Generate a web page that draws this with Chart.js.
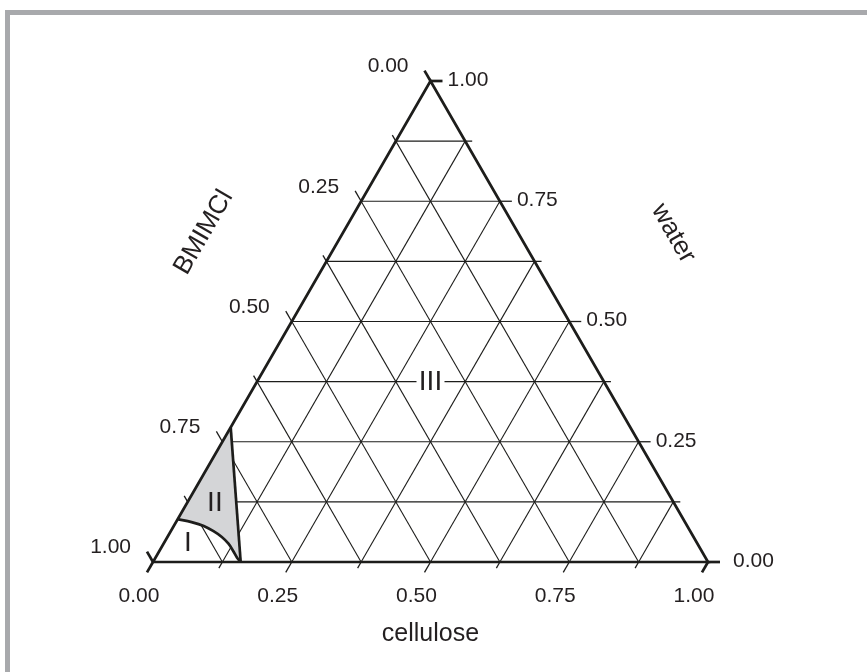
<!DOCTYPE html>
<html>
<head>
<meta charset="utf-8">
<script src="https://cdn.jsdelivr.net/npm/chart.js@4.4.1/dist/chart.umd.min.js"></script>
<style>
  html, body { margin: 0; padding: 0; background: #fff; }
  canvas { display: block; }
</style>
</head>
<body>
<canvas id="ternChart" width="867" height="672"></canvas>
<script>
// grid every 1/8, labels every 1/4
const gridValues = [0.125, 0.25, 0.375, 0.5, 0.625, 0.75, 0.875];
const tickValues = [0, 0.125, 0.25, 0.375, 0.5, 0.625, 0.75, 0.875, 1];
const labelValues = [0, 0.25, 0.5, 0.75, 1];
const tickLabels = ['0.00', '0.25', '0.50', '0.75', '1.00'];
const axisTitles = ['cellulose', 'BMIMCl', 'water'];

// region II boundary (cellulose / water fractions)
const edgeIICellulose = [0, 0.158];
const edgeIIWater = [0.28, 0];
const curveCellulose = [0.158, 0.147, 0.133, 0.117, 0.098, 0.077, 0.054, 0.028, 0];
const curveWater = [0, 0.009, 0.023, 0.038, 0.052, 0.064, 0.075, 0.083, 0.089];

// region labels
const regionNames = ['I', 'II', 'III'];
const regionCellulose = [0.042, 0.049, 0.3125];
const regionWater = [0.042, 0.125, 0.375];

const SQ = Math.sqrt(3) / 2;
const INK = '#1d1d1b';
const MAJOR = 12 / 555, MINOR = 7 / 555;

// ternary (cellulose, water) -> cartesian
function tern(c, w) {
  return { x: c + w / 2, y: w * SQ };
}

function line(points, width, order) {
  return {
    data: points,
    showLine: true,
    borderColor: INK,
    borderWidth: width,
    pointRadius: 0,
    fill: false,
    clip: false,
    tension: 0,
    order: order
  };
}

const datasets = [];

// grid lines
gridValues.forEach(t => {
  datasets.push(line([tern(t, 0), tern(t, 1 - t)], 1.1, 5));        // constant cellulose
  datasets.push(line([tern(0, t), tern(1 - t, t)], 1.1, 5));        // constant water
  datasets.push(line([tern(1 - t, 0), tern(0, 1 - t)], 1.1, 5));    // constant BMIMCl
});

// ticks
tickValues.forEach(t => {
  const isEnd = (t === 0 || t === 1);
  const len = (t * 4) % 1 === 0 ? MAJOR : MINOR;
  const wd = isEnd ? 2.7 : 1.3;
  // cellulose (bottom), down-left
  datasets.push(line([tern(t, 0), tern(t, -len)], wd, 5));
  // BMIMCl (left), up-left ; BMIMCl = t at water = 1 - t
  datasets.push(line([tern(0, 1 - t), tern(-len, 1 - t + len)], wd, 5));
  // water (right), to the right
  datasets.push(line([tern(1 - t, t), tern(1 - t + len, t)], wd, 5));
});

// region II fill
const fillPts = [];
edgeIICellulose.forEach((c, i) => fillPts.push(tern(c, edgeIIWater[i])));
curveCellulose.forEach((c, i) => fillPts.push(tern(c, curveWater[i])));
fillPts.push(tern(edgeIICellulose[0], edgeIIWater[0]));
datasets.push({
  data: fillPts,
  showLine: true,
  borderWidth: 0,
  borderColor: 'rgba(0,0,0,0)',
  backgroundColor: '#d4d5d7',
  pointRadius: 0,
  fill: 'shape',
  clip: false,
  tension: 0,
  order: 3
});

// region II outline
datasets.push(line(edgeIICellulose.map((c, i) => tern(c, edgeIIWater[i])), 2.7, 1));
const curveSet = line(curveCellulose.map((c, i) => tern(c, curveWater[i])), 2.7, 1);
curveSet.tension = 0.35;
datasets.push(curveSet);

// triangle edges
datasets.push(line([tern(0, 0), tern(1, 0), tern(0, 1), tern(0, 0)], 2.7, 0));

const textPlugin = {
  id: 'ternText',
  beforeDraw(chart) {
    const ctx = chart.ctx;
    ctx.save();
    ctx.fillStyle = '#fff';
    ctx.fillRect(0, 0, chart.width, chart.height);
    ctx.fillStyle = '#a8a9ac';
    ctx.fillRect(5, 10, chart.width - 5, 5);
    ctx.fillRect(5, 10, 5, chart.height - 10);
    ctx.restore();
  },
  afterDatasetsDraw(chart) {
    const { ctx, scales: { x, y } } = chart;
    const px = (c, w) => {
      const p = tern(c, w);
      return [x.getPixelForValue(p.x), y.getPixelForValue(p.y)];
    };
    ctx.save();
    ctx.fillStyle = '#231f20';
    ctx.font = '21px "Liberation Sans", Arial, sans-serif';
    ctx.textBaseline = 'middle';
    labelValues.forEach((t, i) => {
      // cellulose
      let [bx, by] = px(t, 0);
      ctx.textAlign = 'center';
      ctx.fillText(tickLabels[i], bx - 6 - 8, by + 10.4 + 24);
      // BMIMCl
      [bx, by] = px(0, 1 - t);
      ctx.textAlign = 'right';
      ctx.fillText(tickLabels[i], bx - 6 - 16, by - 10.4 - 4);
      // water
      [bx, by] = px(1 - t, t);
      ctx.textAlign = 'left';
      ctx.fillText(tickLabels[i], bx + 12 + 5 + (t === 0 ? 8 : 0), by - 1);
    });

    // axis titles
    ctx.textAlign = 'center';
    ctx.font = '25px "Liberation Sans", Arial, sans-serif';
    let [tx, ty] = px(0.5, 0);
    ctx.fillText(axisTitles[0], tx, ty + 72);
    ctx.font = '26px "Liberation Sans", Arial, sans-serif';
    [tx, ty] = px(0, 0.5);
    ctx.save();
    ctx.translate(tx - 88, ty - 89);
    ctx.rotate(-Math.PI / 3);
    ctx.fillText(axisTitles[1], 0, 0);
    ctx.restore();
    [tx, ty] = px(0.5, 0.5);
    ctx.save();
    ctx.translate(tx + 104, ty - 88);
    ctx.rotate(Math.PI / 3);
    ctx.fillText(axisTitles[2], 0, 0);
    ctx.restore();

    // region labels
    ctx.font = '28px "Liberation Sans", Arial, sans-serif';
    regionNames.forEach((name, i) => {
      const [rx, ry] = px(regionCellulose[i], regionWater[i]);
      if (name === 'III') {
        ctx.fillStyle = '#fff';
        ctx.fillRect(rx - 14, ry - 12, 28, 24);
        ctx.fillStyle = '#231f20';
      }
      ctx.fillText(name, rx, ry + 1);
    });
    ctx.restore();
  }
};

new Chart(document.getElementById('ternChart'), {
  type: 'scatter',
  data: { datasets: datasets },
  options: {
    responsive: false,
    animation: false,
    devicePixelRatio: 1,
    events: [],
    layout: { padding: { left: 153, right: 159, top: 81, bottom: 110 } },
    scales: {
      x: { type: 'linear', min: 0, max: 1, display: false },
      y: { type: 'linear', min: 0, max: SQ, display: false }
    },
    plugins: {
      legend: { display: false },
      tooltip: { enabled: false },
      title: { display: false }
    }
  },
  plugins: [textPlugin]
});
</script>
</body>
</html>
